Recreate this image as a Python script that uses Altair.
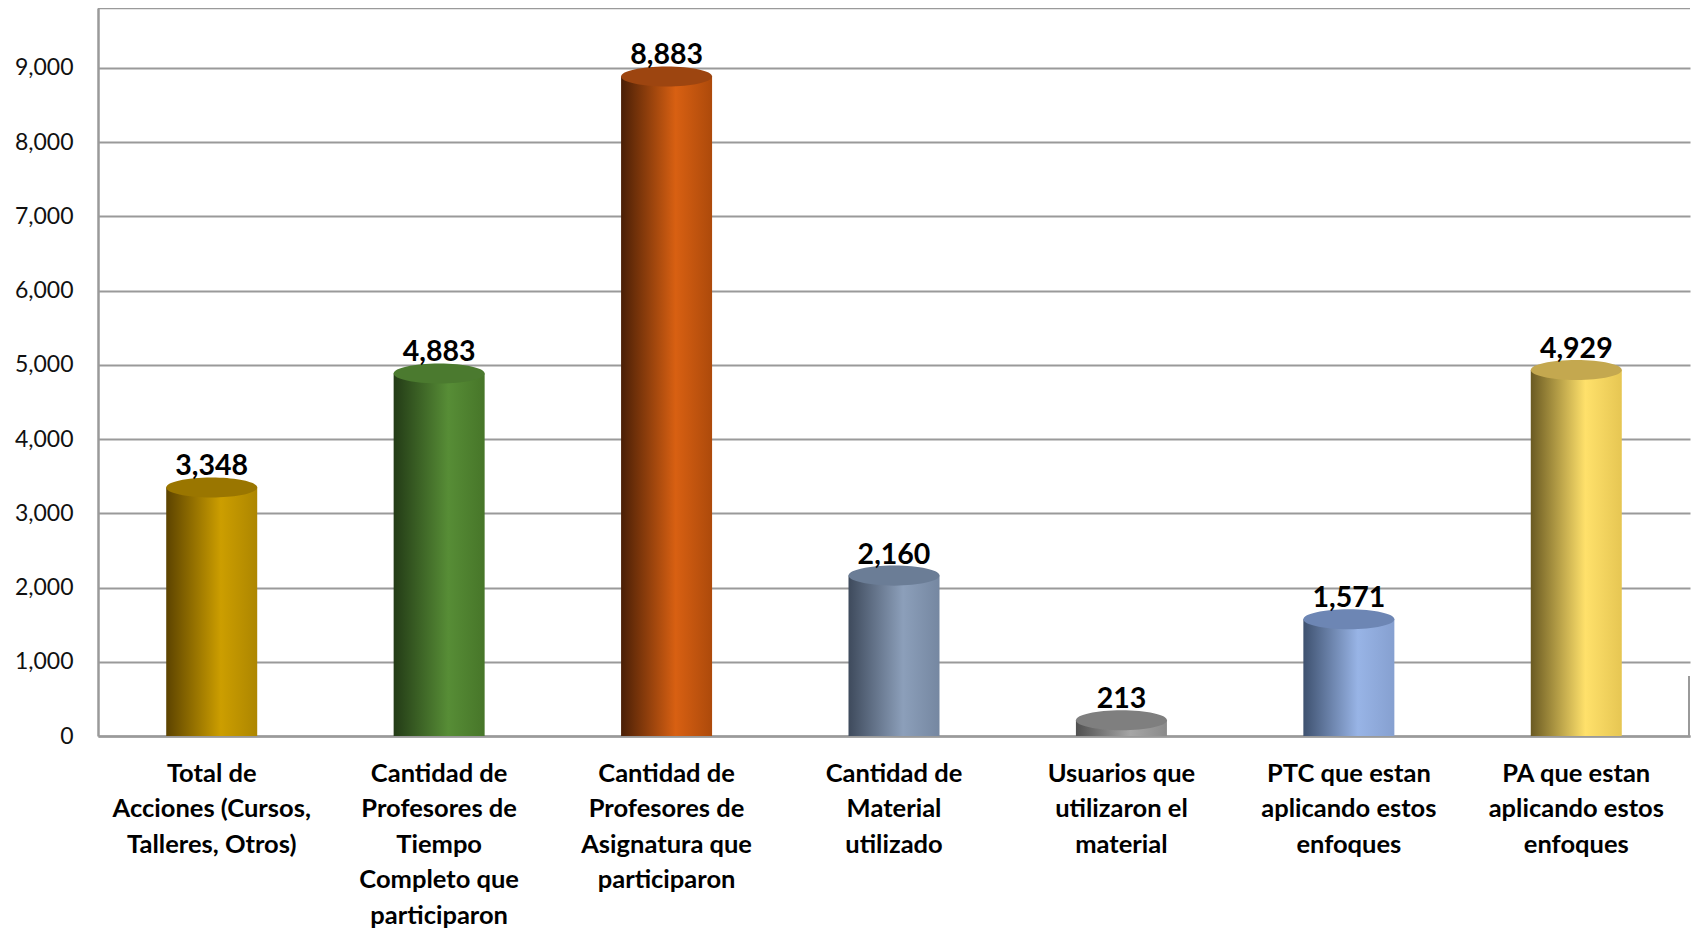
import altair as alt
import pandas as pd

categories = [
    "Total de\nAcciones (Cursos,\nTalleres, Otros)",
    "Cantidad de\nProfesores de\nTiempo\nCompleto que\nparticiparon",
    "Cantidad de\nProfesores de\nAsignatura que\nparticiparon",
    "Cantidad de\nMaterial\nutilizado",
    "Usuarios que\nutilizaron el\nmaterial",
    "PTC que estan\naplicando estos\nenfoques",
    "PA que estan\naplicando estos\nenfoques",
]
values = [3348, 4883, 8883, 2160, 213, 1571, 4929]

# cylinder shading: left (dark), middle (light), right, top ellipse
side_dark = ["#5c4300", "#233b16", "#4a1f06", "#3e4a5c", "#505050", "#3e516f", "#6a5a22"]
side_mid = ["#cc9e00", "#578d36", "#d86012", "#8c9fba", "#a6a6a6", "#98b4e6", "#ffe16b"]
side_right = ["#ad8600", "#477629", "#ad4a0b", "#7587a1", "#8a8a8a", "#86a0d0", "#e6c653"]
top_color = ["#9a7600", "#4b7a2f", "#9d4510", "#6b7d96", "#7f7f7f", "#6d86b4", "#c4a84f"]

df = pd.DataFrame({"cat": categories, "value": values, "idx": list(range(len(values)))})

W, H = 1592, 728
FONT = "Lato"

x_enc = alt.X(
    "cat:N",
    scale=alt.Scale(domain=categories, paddingInner=0, paddingOuter=0),
    axis=alt.Axis(
        title=None,
        labelAngle=0,
        labelExpr="split(datum.label, '\\n')",
        labelFont=FONT,
        labelFontSize=25.5,
        labelFontWeight="bold",
        labelColor="#000000",
        labelLineHeight=35.5,
        labelPadding=25,
        labelLimit=0,
        ticks=False,
        domainColor="#9a9a9a",
        domainWidth=2.5,
        grid=False,
    ),
)
y_scale = alt.Scale(domain=[0, 9805], nice=False, zero=True)
y_enc = alt.Y(
    "value:Q",
    scale=y_scale,
    axis=alt.Axis(
        title=None,
        values=list(range(0, 10000, 1000)),
        format=",.0f",
        labelFont=FONT,
        labelFontSize=23,
        labelColor="#111111",
        labelPadding=25,
        ticks=False,
        domainColor="#9a9a9a",
        domainWidth=2.5,
        gridColor="#9a9a9a",
        gridWidth=2,
    ),
)

base = alt.Chart(df)
layers = []

# grid/axes carrier
layers.append(
    base.mark_bar(opacity=0).encode(x=x_enc, y=y_enc)
)

for i in range(len(values)):
    grad = alt.Gradient(
        gradient="linear",
        stops=[
            alt.GradientStop(color=side_dark[i], offset=0),
            alt.GradientStop(color=side_mid[i], offset=0.6),
            alt.GradientStop(color=side_right[i], offset=1),
        ],
        x1=0, x2=1, y1=0, y2=0,
    )
    sub = base.transform_filter(f"datum.idx == {i}")
    layers.append(
        sub.mark_bar(width=91, fill=grad, stroke=None).encode(
            x=alt.X("cat:N", scale=alt.Scale(domain=categories)),
            y=alt.Y("value:Q", scale=y_scale),
        )
    )
    layers.append(
        sub.mark_point(
            shape="M-1,0 A1,0.22 0 1,1 1,0 A1,0.22 0 1,1 -1,0 Z",
            size=91 * 91,
            filled=True,
            fill=top_color[i],
            stroke=None,
            opacity=1,
        ).encode(
            x=alt.X("cat:N", scale=alt.Scale(domain=categories)),
            y=alt.Y("value:Q", scale=y_scale),
        )
    )

labels = base.mark_text(
    font=FONT, fontSize=28.5, fontWeight="bold", color="#000000", dy=-21, baseline="middle"
).encode(
    x=alt.X("cat:N", scale=alt.Scale(domain=categories)),
    y=alt.Y("value:Q", scale=y_scale),
    text=alt.Text("value:Q", format=","),
)
layers.append(labels)

frame = pd.DataFrame({"k": [0]})
top_rule = alt.Chart(frame).mark_rule(color="#9a9a9a", strokeWidth=2.5).encode(
    x=alt.value(0), x2=alt.value(W), y=alt.value(0)
)
right_edge = alt.Chart(frame).mark_rule(color="#9a9a9a", strokeWidth=2).encode(
    x=alt.value(W - 1), y=alt.value(H - 60), y2=alt.value(H)
)
layers += [top_rule, right_edge]

chart = (
    alt.layer(*layers)
    .properties(
        width=W,
        height=H,
        autosize=alt.AutoSizeParams(type="none"),
        padding={"left": 90, "top": 0, "right": 2, "bottom": 192},
        background="#ffffff",
    )
    .configure_view(stroke=None)
)

chart.save("out.html", embed_options={"renderer": "svg", "actions": False})
